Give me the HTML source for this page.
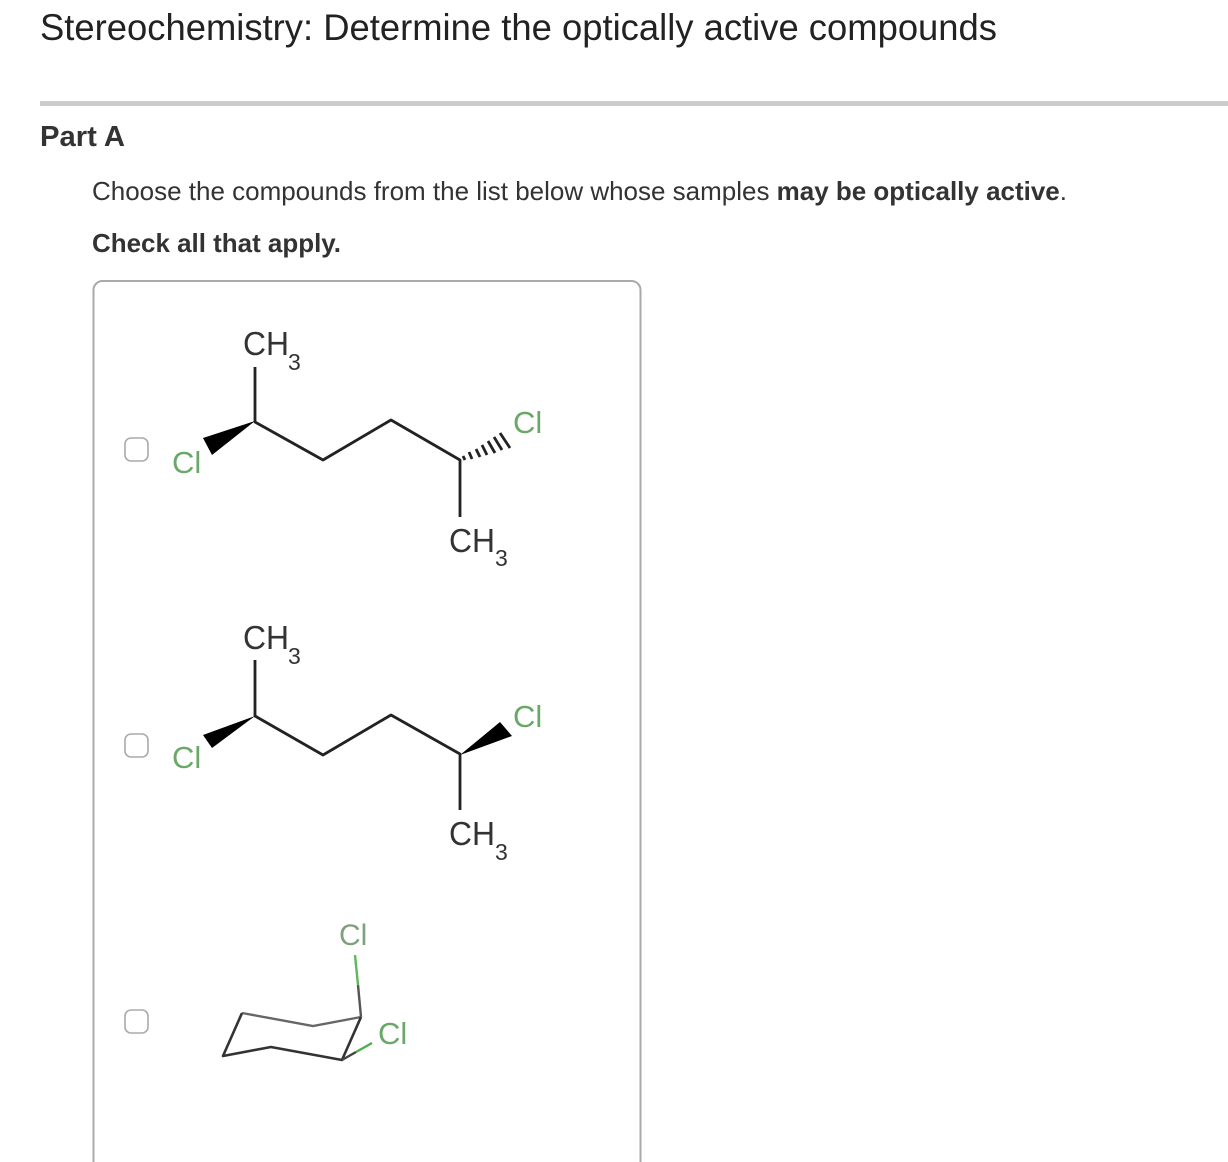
<!DOCTYPE html>
<html><head><meta charset="utf-8"><style>
html,body{margin:0;padding:0;background:#fff;width:1228px;height:1162px;overflow:hidden}
svg{display:block}
text{font-family:"Liberation Sans",sans-serif}
.b{stroke:#222;stroke-width:2.8;fill:none;stroke-linejoin:round}
.c{fill:#6aa86a;font-size:31px}
.k{fill:#333;font-size:33px}
.s{fill:#333;font-size:23px}
.x{fill:#fff;stroke:#aaa;stroke-width:1.6}
.m{filter:blur(.35px)}
</style></head><body>
<svg width="1228" height="1162" viewBox="0 0 1228 1162" xmlns="http://www.w3.org/2000/svg">
<text x="40" y="40" font-size="37" fill="#222" textLength="957" lengthAdjust="spacingAndGlyphs">Stereochemistry: Determine the optically active compounds</text>
<rect x="40" y="101" width="1188" height="5" fill="#ccc"/>
<text x="40" y="146" font-size="29" font-weight="bold" fill="#333" textLength="85" lengthAdjust="spacingAndGlyphs">Part A</text>
<text x="92" y="200" font-size="26" fill="#333" textLength="975" lengthAdjust="spacingAndGlyphs">Choose the compounds from the list below whose samples <tspan font-weight="bold">may be optically active</tspan>.</text>
<text x="92" y="252" font-size="26" font-weight="bold" fill="#333" textLength="249" lengthAdjust="spacingAndGlyphs">Check all that apply.</text>
<path d="M93.500 1170V290a9 9 0 0 1 9-9H631.500a9 9 0 0 1 9 9V1170" fill="none" stroke="#aaa" stroke-width="2"/>

<rect class="x" x="125" y="438" width="23" height="23" rx="6"/>
<rect class="x" x="125" y="734" width="23" height="23" rx="6"/>
<rect class="x" x="125" y="1010" width="23" height="23" rx="6"/>

<g class="m">
<!-- molecule 1 -->
<polyline class="b" points="255,367 255,422 323,460 391,420 460,460 460,517"/>
<polygon points="255,421 203,438 212,455" fill="#000"/>
<g stroke="#222" stroke-width="2.800">
<line x1="463" y1="456" x2="465" y2="460"/><line x1="469" y1="452" x2="472" y2="459"/><line x1="476" y1="449" x2="480" y2="457"/><line x1="482" y1="445" x2="487" y2="455"/><line x1="488" y1="441" x2="495" y2="453"/><line x1="494" y1="437" x2="502" y2="450"/><line x1="500" y1="433" x2="510" y2="448"/>
</g>
<text class="k" x="243" y="355" textLength="46" lengthAdjust="spacingAndGlyphs">CH</text><text class="s" x="288" y="370">3</text>
<text class="k" x="449" y="552" textLength="46" lengthAdjust="spacingAndGlyphs">CH</text><text class="s" x="495" y="566">3</text>
<text class="c" x="172" y="473">Cl</text>
<text class="c" x="513" y="433">Cl</text>

<!-- molecule 2 -->
<polyline class="b" points="255,660 255,716 323,755 391,715 460,754 460,810"/>
<polygon points="255,716 203,735 212,748" fill="#000"/>
<polygon points="460,755 500,722 512,736" fill="#000"/>
<text class="k" x="243" y="649" textLength="46" lengthAdjust="spacingAndGlyphs">CH</text><text class="s" x="288" y="664">3</text>
<text class="k" x="449" y="845" textLength="46" lengthAdjust="spacingAndGlyphs">CH</text><text class="s" x="495" y="860">3</text>
<text class="c" x="172" y="768">Cl</text>
<text class="c" x="513" y="727">Cl</text>

<!-- molecule 3 -->
<polyline points="242,1013 313,1026 361,1017" fill="none" stroke="#666" stroke-width="2.400"/>
<polyline points="242,1013 223,1056 271,1047 342,1060 361,1017" fill="none" stroke="#333" stroke-width="2.600" stroke-linejoin="round"/>
<line x1="361" y1="1017" x2="358" y2="985" stroke="#555" stroke-width="2.400"/>
<line x1="358" y1="985" x2="355" y2="955" stroke="#5cb85c" stroke-width="2.400"/>
<line x1="342" y1="1060" x2="356" y2="1052" stroke="#444" stroke-width="2.400"/>
<line x1="356" y1="1052" x2="372" y2="1043" stroke="#4cae4c" stroke-width="2.400"/>
<text x="339" y="945" font-size="30" fill="#7f9f7f">Cl</text>
<text class="c" x="378" y="1044">Cl</text>
</g>
</svg>
</body></html>
